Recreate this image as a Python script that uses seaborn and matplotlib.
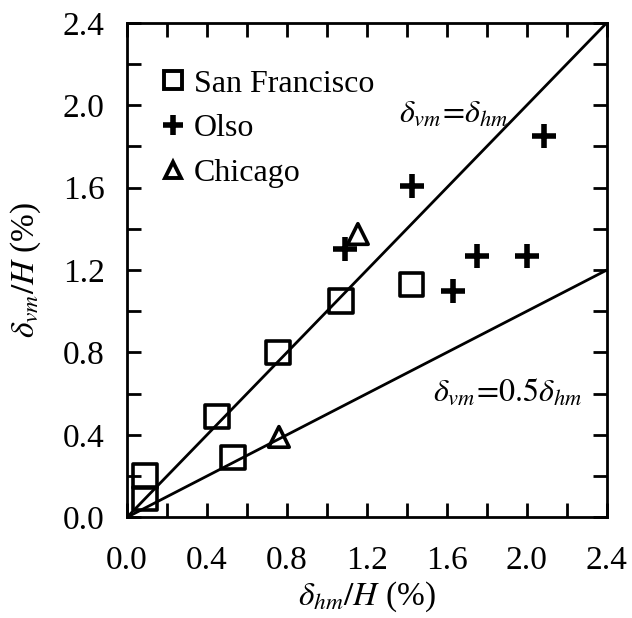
import numpy as np
import pandas as pd
import matplotlib
matplotlib.use("Agg")
import matplotlib.pyplot as plt
import seaborn as sns
from matplotlib.lines import Line2D

sns.set_theme(style="ticks")
plt.rcParams['font.family'] = ['Liberation Serif', 'DejaVu Serif']
plt.rcParams['mathtext.fontset'] = 'stix'
plt.rcParams['text.color'] = 'black'
plt.rcParams['axes.labelcolor'] = 'black'
plt.rcParams['xtick.color'] = 'black'
plt.rcParams['ytick.color'] = 'black'

# Data
sf_x = [0.09, 0.09, 0.45, 0.53, 0.755, 1.07, 1.425]
sf_y = [0.20, 0.09, 0.49, 0.29, 0.80, 1.05, 1.13]
oslo_x = [1.09, 1.425, 2.085, 1.75, 2.0, 1.63]
oslo_y = [1.30, 1.61, 1.85, 1.27, 1.27, 1.10]
chi_x = [1.155, 0.76]
chi_y = [1.375, 0.39]
line_x = [0.0, 2.4]
ratios = [1.0, 0.5]
series_names = ["San Francisco", "Olso", "Chicago"]
ticks = [0.0, 0.4, 0.8, 1.2, 1.6, 2.0, 2.4]

fig = plt.figure(figsize=(6.32, 6.18), dpi=100)
ax = fig.add_axes([0.201, 0.163, 0.759, 0.800])

for r in ratios:
    df = pd.DataFrame({"x": line_x, "y": [r * v for v in line_x]})
    sns.lineplot(data=df, x="x", y="y", ax=ax, color="black", lw=2.0, zorder=2)

sns.scatterplot(x=sf_x, y=sf_y, ax=ax, marker="s", s=280, facecolors="none",
                edgecolors="black", linewidths=2.6, zorder=3)
sns.scatterplot(x=oslo_x, y=oslo_y, ax=ax, marker="+", s=290, color="black",
                linewidths=4.0, zorder=3)
sns.scatterplot(x=chi_x, y=chi_y, ax=ax, marker="^", s=220, facecolors="none",
                edgecolors="black", linewidths=2.6, zorder=3)

ax.set_xlim(0, 2.4)
ax.set_ylim(0, 2.4)
ax.set_xticks(ticks)
ax.set_yticks(ticks)
ax.set_xticklabels([f"{t:.1f}" for t in ticks])
ax.set_yticklabels([f"{t:.1f}" for t in ticks])
ax.set_xticks(np.arange(0.2, 2.4, 0.4), minor=True)
ax.set_yticks(np.arange(0.2, 2.4, 0.4), minor=True)
ax.tick_params(which="both", direction="in", top=True, right=True, width=2, color="black")
ax.tick_params(which="major", length=10, labelsize=24)
ax.tick_params(axis="x", which="major", pad=20)
ax.tick_params(axis="y", which="major", pad=16)
ax.tick_params(which="minor", length=10)
for s in ax.spines.values():
    s.set_linewidth(2)
    s.set_color("black")

ax.set_xlabel(r"$\delta_{hm}/H$ (%)", fontsize=24, labelpad=3)
ax.set_ylabel(r"$\delta_{vm}/H$ (%)", fontsize=24, labelpad=14)

ax.text(1.36, 1.92, r"$\delta_{vm}\!=\!\delta_{hm}$", fontsize=23, color="black")
ax.text(1.53, 0.565, r"$\delta_{vm}\!=\!0.5\delta_{hm}$", fontsize=23, color="black")

handles = [
    Line2D([], [], ls="none", marker="s", ms=13, mfc="none", mec="black", mew=2.8),
    Line2D([], [], ls="none", marker="+", ms=15, mec="black", mew=4.0),
    Line2D([], [], ls="none", marker="^", ms=12, mfc="none", mec="black", mew=2.8),
]
ax.legend(handles, series_names, loc="upper left", bbox_to_anchor=(0.03, 0.945),
          frameon=False, fontsize=23, handlelength=0.8, handletextpad=0.25,
          labelspacing=0.48, borderaxespad=0.2)

fig.savefig("out.png", dpi=100)
